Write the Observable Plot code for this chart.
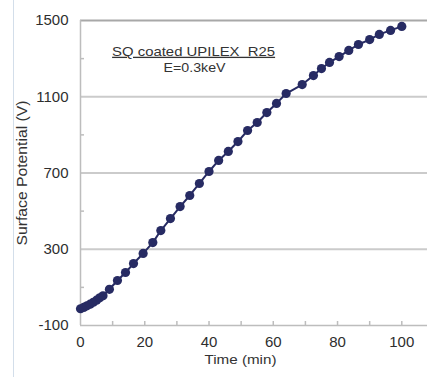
<!DOCTYPE html>
<html>
<head>
<meta charset="utf-8">
<script src="https://cdn.jsdelivr.net/npm/d3@7"></script>
<script src="https://cdn.jsdelivr.net/npm/@observablehq/plot@0.6"></script>
<style>
  html, body { margin: 0; padding: 0; background: #fff; }
</style>
</head>
<body>
<div id="chart"></div>
<script>
const time = [0, 1, 2, 3, 4, 5, 6, 7, 9, 11.5, 14, 16.5, 19.5, 22.5, 25, 28, 31, 34, 37, 40, 43, 46, 49, 52, 55, 58, 61, 64, 69, 72.5, 75, 77.5, 80.5, 83.5, 86.5, 90, 93, 96.5, 100];
const potential = [-12, -5, 3, 12, 22, 33, 45, 56, 90, 136, 178, 225, 278, 335, 398, 461, 524, 582, 645, 708, 766, 813, 865, 923, 965, 1017, 1065, 1117, 1164, 1211, 1248, 1280, 1311, 1343, 1374, 1400, 1427, 1448, 1469];
const xTicks = [0, 20, 40, 60, 80, 100];
const xMinor = [10, 20, 30, 40, 50, 60, 70, 80, 90, 100];
const yTicks = [-100, 300, 700, 1100, 1500];
const yGrid = [300, 700, 1100];
const yMinor = [100, 500, 900, 1300];
const titleLines = ["SQ coated UPILEX  R25", "E=0.3keV"];
const xLabel = "Time (min)";
const yLabel = "Surface Potential (V)";

const data = time.map((t, i) => ({t, v: potential[i]}));
const font = "'Liberation Sans', Arial, Helvetica, sans-serif";
const navy = "#272b63";
const plain = d => String(d);

const chart = Plot.plot({
  width: 427,
  height: 377,
  marginLeft: 80,
  marginRight: 0,
  marginTop: 20,
  marginBottom: 52,
  style: {fontFamily: font, fontSize: "15px", color: "#333", background: "#fff"},
  x: {domain: [0, 108]},
  y: {domain: [-100, 1500]},
  marks: [
    Plot.ruleX([0], {dx: -67, insetTop: -20, insetBottom: -52, stroke: "#d3deea", strokeWidth: 1}),
    Plot.ruleY(yGrid, {stroke: "#cbcbcb", strokeWidth: 2}),
    Plot.ruleY([1500], {stroke: "#a8a8a8", strokeWidth: 2}),
    Plot.ruleY([-100], {stroke: "#bdbdbd", strokeWidth: 1.5}),
    Plot.ruleX([0], {stroke: "#bdbdbd", strokeWidth: 1.5}),
    Plot.tickX(xMinor, {x: d => d, insetTop: 301, stroke: "#bdbdbd", strokeWidth: 1.5}),
    Plot.tickY(yMinor, {y: d => d, insetRight: 343, stroke: "#bdbdbd", strokeWidth: 1.5}),
    Plot.axisX({ticks: xTicks, tickFormat: plain, tickSize: 0, tickPadding: 11, label: null, fontSize: 15, fill: "#2e2e2e"}),
    Plot.axisY({ticks: yTicks, tickFormat: plain, tickSize: 0, tickPadding: 12, label: null, fontSize: 15, fill: "#2e2e2e"}),
    Plot.line(data, {x: "t", y: "v", stroke: navy, strokeWidth: 2}),
    Plot.dot(data, {x: "t", y: "v", r: 4.6, fill: navy, stroke: null}),
    Plot.text([titleLines[0]], {x: 35.2, y: 1337, fontSize: 13, fill: "#333", textAnchor: "middle"}),
    Plot.text([titleLines[1]], {x: 35.5, y: 1250, fontSize: 13, fill: "#333", textAnchor: "middle"}),
    Plot.text([xLabel], {frameAnchor: "bottom-left", dx: 160, dy: 38, fontSize: 13, fill: "#333", textAnchor: "middle"}),
    Plot.text([yLabel], {frameAnchor: "left", dx: -58, rotate: -90, fontSize: 15, fill: "#333", textAnchor: "middle"})
  ]
});

d3.select(chart).selectAll("text").each(function() {
  const t = this.textContent;
  const s = d3.select(this);
  if (t === titleLines[0]) s.attr("text-decoration", "underline").attr("textLength", 163).attr("lengthAdjust", "spacingAndGlyphs");
  if (t === titleLines[1]) s.attr("textLength", 62).attr("lengthAdjust", "spacingAndGlyphs");
  if (t === xLabel) s.attr("textLength", 72).attr("lengthAdjust", "spacingAndGlyphs");
  if (t === yLabel) s.attr("textLength", 145).attr("lengthAdjust", "spacingAndGlyphs");
});

document.getElementById("chart").appendChild(chart);
</script>
</body>
</html>
